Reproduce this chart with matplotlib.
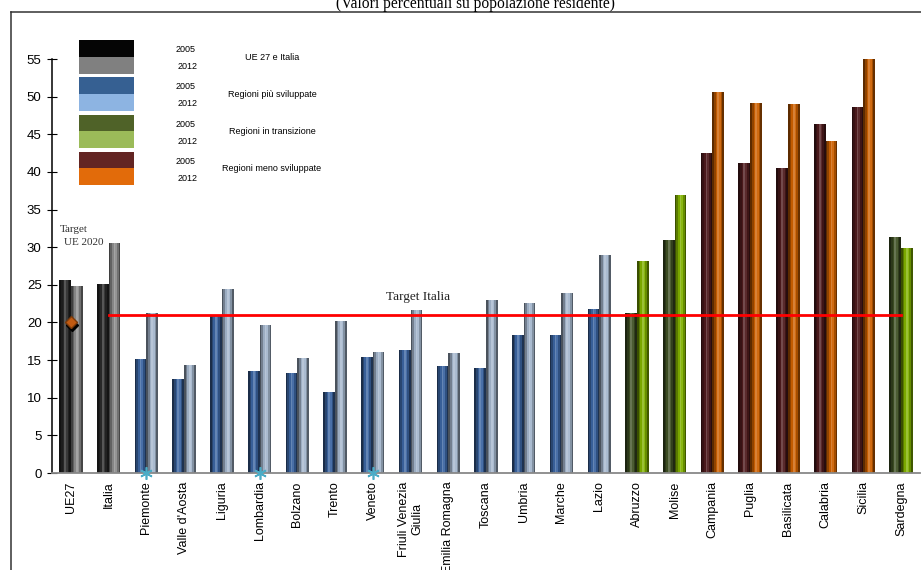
import matplotlib
matplotlib.use("Agg")
import matplotlib.pyplot as plt
from matplotlib.patches import Rectangle
from matplotlib.lines import Line2D
from matplotlib.colors import to_rgb
import numpy as np

# --- dati ---
regioni = ["UE27", "Italia", "Piemonte", "Valle d'Aosta", "Liguria", "Lombardia",
           "Bolzano", "Trento", "Veneto", "Friuli Venezia\nGiulia", "Emilia Romagna",
           "Toscana", "Umbria", "Marche", "Lazio", "Abruzzo", "Molise", "Campania",
           "Puglia", "Basilicata", "Calabria", "Sicilia", "Sardegna"]
gruppo = ["ue", "ue"] + ["piu"] * 13 + ["trans", "trans"] + ["meno"] * 5 + ["trans"]
val_2005 = [25.6, 25.1, 15.2, 12.5, 20.9, 13.5, 13.3, 10.8, 15.4, 16.4, 14.2,
            14.0, 18.3, 18.3, 21.8, 21.2, 30.9, 42.5, 41.2, 40.5, 46.3, 48.6, 31.3]
val_2012 = [24.9, 30.5, 21.2, 14.3, 24.4, 19.6, 15.3, 20.2, 16.1, 21.6, 16.0,
            23.0, 22.6, 23.9, 29.0, 28.1, 36.9, 50.6, 49.2, 49.0, 44.1, 55.0, 29.9]
target_italia = 21
target_ue = 20
marcate = ["Piemonte", "Lombardia", "Veneto"]

colori_barre = {"ue": ("#2a2a2a", "#8c8c8c"), "piu": ("#3b64a0", "#a4b6cc"),
                "trans": ("#3f5024", "#80b000"), "meno": ("#4e1a1c", "#cc6000")}
legenda = [("UE 27 e Italia", "#050505", "#808080"),
           ("Regioni più sviluppate", "#366092", "#8db4e2"),
           ("Regioni in transizione", "#4f6228", "#9bbb59"),
           ("Regioni meno sviluppate", "#632523", "#e26b0a")]

W, H = 921, 570
fig = plt.figure(figsize=(W / 100, H / 100), dpi=100)


def fx(px):
    return px / W


def fy(py):
    return 1 - py / H


ax = fig.add_axes([fx(52), fy(473), fx(920 - 52), (473 - 59) / H])
x = np.arange(len(regioni))
bw = 0.31
profilo = [0.45, 0.7, 0.95, 1.15, 1.05, 0.8, 0.5]


def tinta(c, k):
    r = np.array(to_rgb(c))
    if k <= 1:
        return tuple(r * k)
    return tuple(r + (1 - r) * (k - 1) * 1.4)


# barre "cilindriche": strisce verticali con luminosità diversa
for serie, off, idx in [(val_2005, -bw / 2, 0), (val_2012, bw / 2, 1)]:
    n = len(profilo)
    sw = bw / n
    for j, k in enumerate(profilo):
        cols = [tinta(colori_barre[g][idx], k) for g in gruppo]
        ax.bar(x + off - bw / 2 + sw * (j + 0.5), serie, sw, color=cols,
               linewidth=0, zorder=2)

ax.plot(x[1:], [target_italia] * (len(x) - 1), color="red", lw=2, zorder=4)
ax.text(9.2, 23.4, "Target Italia", family="Liberation Serif", fontsize=9.5,
        ha="center", va="center", color="#222222")

ax.plot([0.04], [target_ue - 0.35], marker="D", ms=6, color="black", zorder=5)
ax.plot([0], [target_ue], marker="D", ms=6, color="#c05a12", mec="#7a3a0a",
        zorder=6)
ax.text(0.08, 32.3, "Target", family="Liberation Serif", fontsize=8,
        ha="center", va="center", color="#333333")
ax.text(0.33, 30.6, "UE 2020", family="Liberation Serif", fontsize=8,
        ha="center", va="center", color="#333333")

xm = [regioni.index(r) for r in marcate]
ax.plot(xm, [0] * len(xm), ls="none", marker=(6, 2, 0), ms=9, mew=1.2,
        color="#4bacc6", zorder=6, clip_on=False)

ax.set_xlim(-0.5, len(regioni) - 0.5)
ax.set_ylim(0, 55)
ax.set_yticks(range(0, 56, 5))
ax.tick_params(axis="y", direction="inout", length=7, labelsize=9.5, pad=4)
ax.tick_params(axis="x", length=0, pad=6, labelsize=9)
ax.set_xticks(x)
ax.set_xticklabels(regioni, rotation=90, family="Liberation Sans",
                   va="top", ha="center", multialignment="center")
for t in ax.get_yticklabels():
    t.set_family("Liberation Sans")
for s in ["top", "right"]:
    ax.spines[s].set_visible(False)
ax.spines["bottom"].set_color("#888888")
ax.spines["bottom"].set_linewidth(1.3)
ax.spines["left"].set_linewidth(1.1)

# legenda disegnata a mano (tabella con quadrati colorati)
y0 = 40
for i, (lab, c05, c12) in enumerate(legenda):
    yt = y0 + i * 37.3
    fig.add_artist(Rectangle((fx(79), fy(yt + 16.5)), fx(55), 16.5 / H,
                             color=c05, lw=0, transform=fig.transFigure))
    fig.add_artist(Rectangle((fx(79), fy(yt + 33.5)), fx(55), 17 / H,
                             color=c12, lw=0, transform=fig.transFigure))
    fig.text(fx(186), fy(yt + 9.5), "2005", fontsize=6.5, ha="center",
             va="center", family="Liberation Sans")
    fig.text(fx(188), fy(yt + 26.5), "2012", fontsize=6.5, ha="center",
             va="center", family="Liberation Sans")
    fig.text(fx(272), fy(yt + 17), lab, fontsize=6.5, ha="center",
             va="center", family="Liberation Sans")

# cornice e titolo
fig.add_artist(Line2D([fx(11), fx(11)], [fy(12), 0], color="#333333", lw=1.1,
                      transform=fig.transFigure))
fig.add_artist(Line2D([fx(11), 1], [fy(12), fy(12)], color="#333333", lw=1.1,
                      transform=fig.transFigure))
fig.text(fx(475), fy(8.5), "(Valori percentuali su popolazione residente)",
         family="Liberation Serif", fontsize=11.2, ha="center", va="baseline")

fig.savefig("out.png", dpi=100)
